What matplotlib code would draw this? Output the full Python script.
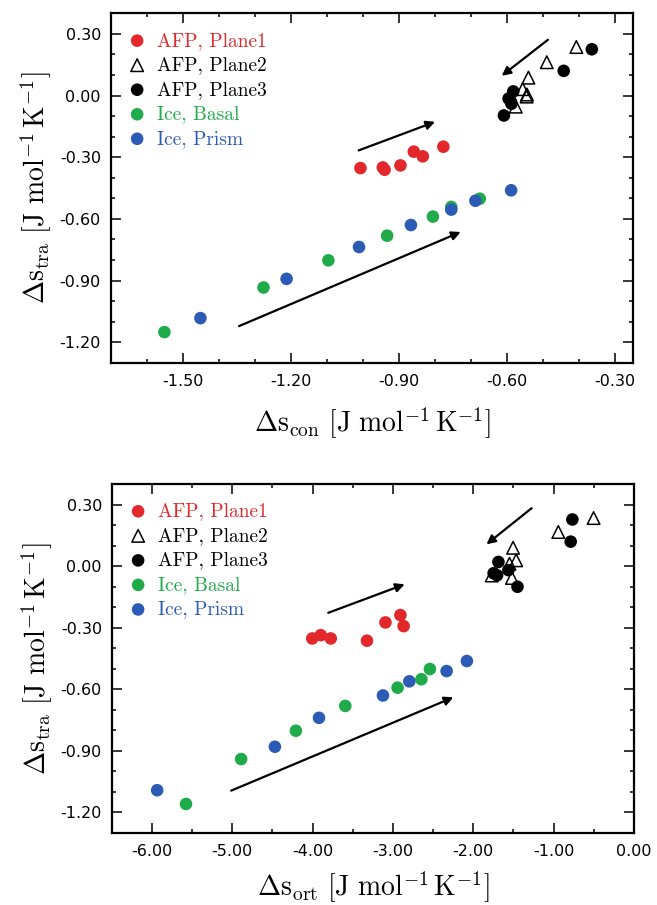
import matplotlib
matplotlib.use("Agg")
import matplotlib.pyplot as plt
from matplotlib import ticker

# top panel: Delta s_con vs Delta s_tra
con_p1_x = [-1.007, -0.945, -0.940, -0.896, -0.859, -0.834, -0.777]
con_p1_y = [-0.353, -0.350, -0.361, -0.340, -0.273, -0.296, -0.249]
con_p2_x = [-0.408, -0.490, -0.541, -0.557, -0.546, -0.545, -0.576]
con_p2_y = [0.236, 0.162, 0.087, 0.031, -0.005, 0.005, -0.054]
con_p3_x = [-0.365, -0.443, -0.583, -0.591, -0.596, -0.588, -0.609]
con_p3_y = [0.225, 0.120, 0.020, -0.025, -0.015, -0.040, -0.097]
con_basal_x = [-1.551, -1.276, -1.096, -0.933, -0.806, -0.755, -0.676]
con_basal_y = [-1.151, -0.934, -0.802, -0.682, -0.589, -0.542, -0.502]
con_prism_x = [-1.451, -1.212, -1.011, -0.867, -0.755, -0.688, -0.589]
con_prism_y = [-1.083, -0.892, -0.737, -0.630, -0.555, -0.512, -0.461]

# bottom panel: Delta s_ort vs Delta s_tra
ort_p1_x = [-4.004, -3.898, -3.774, -3.323, -3.093, -2.907, -2.867]
ort_p1_y = [-0.353, -0.337, -0.353, -0.364, -0.275, -0.239, -0.293]
ort_p2_x = [-0.503, -0.942, -1.505, -1.466, -1.550, -1.770, -1.519]
ort_p2_y = [0.234, 0.166, 0.089, 0.028, 0.011, -0.046, -0.058]
ort_p3_x = [-0.767, -0.788, -1.687, -1.747, -1.704, -1.563, -1.450]
ort_p3_y = [0.227, 0.119, 0.020, -0.035, -0.045, -0.020, -0.101]
ort_basal_x = [-5.575, -4.889, -4.208, -3.593, -2.942, -2.646, -2.540]
ort_basal_y = [-1.160, -0.941, -0.803, -0.682, -0.593, -0.552, -0.502]
ort_prism_x = [-5.934, -4.469, -3.920, -3.124, -2.796, -2.332, -2.080]
ort_prism_y = [-1.093, -0.881, -0.740, -0.631, -0.562, -0.512, -0.463]

# arrows (start x, start y, end x, end y)
con_arrows = [(-0.487, 0.271, -0.615, 0.096),
              (-1.012, -0.267, -0.800, -0.128),
              (-1.344, -1.122, -0.729, -0.664)]
ort_arrows = [(-1.274, 0.282, -1.836, 0.106),
              (-3.805, -0.228, -2.854, -0.089),
              (-5.013, -1.095, -2.248, -0.640)]

labels = ['AFP, Plane1', 'AFP, Plane2', 'AFP, Plane3', 'Ice, Basal', 'Ice, Prism']
red = '#e3282b'
green = '#1fab4a'
blue = '#2b5bb4'
label_colors = [red, 'black', 'black', green, blue]

plt.rcParams['mathtext.fontset'] = 'cm'
plt.rcParams['axes.unicode_minus'] = False
plt.rcParams['font.family'] = 'DejaVu Sans'


def draw_panel(ax, p1, p2, p3, basal, prism, arrows, xlim, xmaj, xmin, xname, xpad):
    s = 82
    ax.scatter(p1[0], p1[1], s=s, color=red, edgecolors='none', label=labels[0], zorder=3)
    ax.scatter(p2[0], p2[1], s=s, marker='^', facecolors='none', edgecolors='black',
               linewidths=1.1, label=labels[1], zorder=3)
    ax.scatter(p3[0], p3[1], s=s, color='black', edgecolors='none', label=labels[2], zorder=3)
    ax.scatter(basal[0], basal[1], s=s, color=green, edgecolors='none', label=labels[3], zorder=3)
    ax.scatter(prism[0], prism[1], s=s, color=blue, edgecolors='none', label=labels[4], zorder=3)

    for x0, y0, x1, y1 in arrows:
        ax.annotate('', xy=(x1, y1), xytext=(x0, y0),
                    arrowprops=dict(arrowstyle='-|>', color='black', lw=1.6,
                                    mutation_scale=13, shrinkA=0, shrinkB=0))

    ax.set_xlim(*xlim)
    ax.set_ylim(-1.30, 0.40)
    ax.xaxis.set_major_locator(ticker.MultipleLocator(xmaj))
    ax.xaxis.set_minor_locator(ticker.MultipleLocator(xmin))
    ax.yaxis.set_major_locator(ticker.MultipleLocator(0.30))
    ax.yaxis.set_minor_locator(ticker.MultipleLocator(0.10))
    ax.xaxis.set_major_formatter(ticker.FormatStrFormatter('%.2f'))
    ax.yaxis.set_major_formatter(ticker.FormatStrFormatter('%.2f'))
    ax.tick_params(which='both', direction='in', top=True, right=True, width=1.1)
    ax.tick_params(which='major', length=7, labelsize=11.5)
    ax.tick_params(which='minor', length=3)
    ax.tick_params(axis='x', pad=8)
    ax.tick_params(axis='y', pad=7)
    for sp in ax.spines.values():
        sp.set_linewidth(1.6)

    ax.set_xlabel(r'$\Delta \mathrm{s}_{\mathrm{' + xname + r'}}\ [\mathrm{J\ mol}^{-1}\,\mathrm{K}^{-1}]$',
                  fontsize=20, labelpad=xpad)
    ax.set_ylabel(r'$\Delta \mathrm{s}_{\mathrm{tra}}\ [\mathrm{J\ mol}^{-1}\,\mathrm{K}^{-1}]$',
                  fontsize=20, labelpad=4)

    leg = ax.legend(loc='upper left', bbox_to_anchor=(0.032, 0.947), frameon=False,
                    scatterpoints=1, handlelength=1.0, handletextpad=0.53,
                    borderpad=0, borderaxespad=0, labelspacing=0.34,
                    prop={'family': 'cmr10', 'size': 14})
    for txt, c in zip(leg.get_texts(), label_colors):
        txt.set_color(c)


fig = plt.figure(figsize=(6.57, 9.05), dpi=100)
ax1 = fig.add_axes([0.1685, 0.5992, 0.7954, 0.3861])
ax2 = fig.add_axes([0.1700, 0.0799, 0.7950, 0.3853])

draw_panel(ax1, (con_p1_x, con_p1_y), (con_p2_x, con_p2_y), (con_p3_x, con_p3_y),
           (con_basal_x, con_basal_y), (con_prism_x, con_prism_y), con_arrows,
           (-1.70, -0.25), 0.30, 0.10, 'con', 12)
draw_panel(ax2, (ort_p1_x, ort_p1_y), (ort_p2_x, ort_p2_y), (ort_p3_x, ort_p3_y),
           (ort_basal_x, ort_basal_y), (ort_prism_x, ort_prism_y), ort_arrows,
           (-6.5, 0.0), 1.0, 0.5, 'ort', 8)

fig.savefig('out.png', dpi=100)
